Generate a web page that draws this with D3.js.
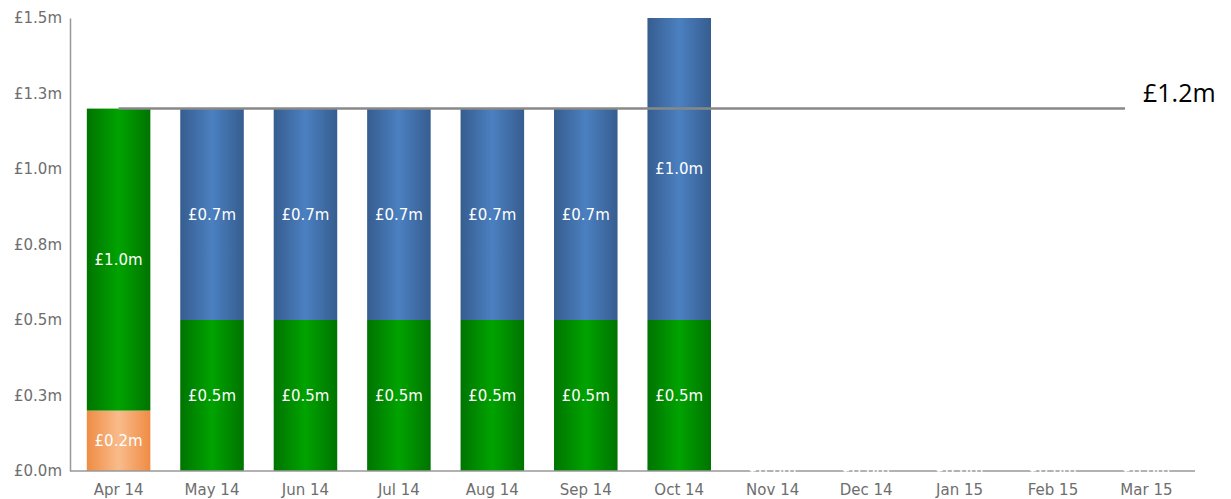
<!DOCTYPE html>
<html>
<head>
<meta charset="utf-8">
<script src="https://cdn.jsdelivr.net/npm/d3@7"></script>
<style>
  body { margin: 0; background: #fff; }
  .axis text { font-family: "DejaVu Sans", Verdana, sans-serif; font-size: 15px; fill: #6e6e6e; }
  .lbl { font-family: "DejaVu Sans", Verdana, sans-serif; font-size: 15px; fill: #fff; }
</style>
</head>
<body>
<div id="chart"></div>
<script>
"use strict"

// Monthly stacked bars against a target line

var months = ["Apr 14", "May 14", "Jun 14", "Jul 14", "Aug 14", "Sep 14",
  "Oct 14", "Nov 14", "Dec 14", "Jan 15", "Feb 15", "Mar 15"]

var orange = [0.2, 0, 0, 0, 0, 0, 0, 0, 0, 0, 0, 0]
var green = [1.0, 0.5, 0.5, 0.5, 0.5, 0.5, 0.5, 0, 0, 0, 0, 0]
var blue = [0, 0.7, 0.7, 0.7, 0.7, 0.7, 1.0, 0, 0, 0, 0, 0]

var yTicks = [0, 0.25, 0.5, 0.75, 1.0, 1.25, 1.5]
var target = 1.2

var width = 1231
var height = 499
var margin = {top: 18, right: 36, bottom: 28, left: 70}

var series = [
  {key: "orange", values: orange, stops: ["#ef8c44", "#f9bb8b", "#ef8c44"]},
  {key: "green", values: green, stops: ["#007400", "#00a300", "#007400"]},
  {key: "blue", values: blue, stops: ["#365d8f", "#4b80c1", "#365d8f"]}
]

var fmt = function(d) { return "£" + d3.format(".1f")(d) + "m" }

var svg = d3.select("#chart").append("svg")
  .attr("width", width)
  .attr("height", height)

var defs = svg.append("defs")
series.forEach(function(s) {
  var g = defs.append("linearGradient")
    .attr("id", "grad-" + s.key)
    .attr("x1", "0%").attr("x2", "100%")
    .attr("y1", "0%").attr("y2", "0%")
  g.selectAll("stop")
    .data(s.stops)
    .enter().append("stop")
      .attr("offset", function(d, i) { return (i * 50) + "%" })
      .attr("stop-color", function(d) { return d })
})

var x = d3.scaleBand()
  .domain(months)
  .range([margin.left, width - margin.right])
  .paddingInner(0.32)
  .paddingOuter(0.18)

var y = d3.scaleLinear()
  .domain([0, 1.5])
  .range([height - margin.bottom, margin.top])

// stack
var rows = months.map(function(m, i) {
  return {month: m, orange: orange[i], green: green[i], blue: blue[i]}
})
var stacked = d3.stack().keys(series.map(function(s) { return s.key }))(rows)

stacked.forEach(function(layer, li) {
  var g = svg.append("g")
  g.selectAll("rect")
    .data(layer.filter(function(d) { return d[1] - d[0] > 0 }))
    .enter().append("rect")
      .attr("x", function(d) { return x(d.data.month) })
      .attr("width", x.bandwidth())
      .attr("y", function(d) { return y(d[1]) })
      .attr("height", function(d) { return y(d[0]) - y(d[1]) })
      .attr("fill", "url(#grad-" + series[li].key + ")")
  g.selectAll("text")
    .data(layer.filter(function(d) { return d[1] - d[0] > 0 }))
    .enter().append("text")
      .attr("class", "lbl")
      .attr("x", function(d) { return x(d.data.month) + x.bandwidth() / 2 })
      .attr("y", function(d) { return (y(d[0]) + y(d[1])) / 2 })
      .attr("dy", "0.36em")
      .attr("text-anchor", "middle")
      .text(function(d) { return fmt(d[1] - d[0]) })
})

// axes
var yAxis = svg.append("g")
  .attr("class", "axis")
  .attr("transform", "translate(" + margin.left + ",0)")
  .call(d3.axisLeft(y).tickValues(yTicks).tickFormat(fmt).tickSize(0).tickPadding(8))
yAxis.select(".domain").attr("stroke", "#999").attr("stroke-width", 1.5)

var xAxis = svg.append("g")
  .attr("class", "axis")
  .attr("transform", "translate(0," + y(0) + ")")
  .call(d3.axisBottom(x).tickSize(0).tickPadding(13))
xAxis.select(".domain").attr("stroke", "#999").attr("stroke-width", 1.5)
  .attr("d", "M" + margin.left + ",0H" + (width - margin.right))

// zero labels for empty months
svg.append("g")
  .selectAll("text")
  .data(rows.filter(function(d) { return d.orange + d.green + d.blue === 0 }))
  .enter().append("text")
    .attr("class", "lbl")
    .attr("x", function(d) { return x(d.month) + x.bandwidth() / 2 })
    .attr("y", y(0))
    .attr("dy", "0.36em")
    .attr("text-anchor", "middle")
    .text(function() { return fmt(0) })

// target line
svg.append("line")
  .attr("x1", x(months[0]) + x.bandwidth() / 2)
  .attr("x2", 1125)
  .attr("y1", y(target))
  .attr("y2", y(target))
  .attr("stroke", "#888")
  .attr("stroke-width", 2.5)

svg.append("text")
  .attr("x", 1143)
  .attr("y", y(target) - 7)
  .style("font-family", "'Open Sans', 'Noto Sans', sans-serif")
  .style("font-size", "25px")
  .attr("fill", "#000")
  .text(fmt(target))
</script>
</body>
</html>
